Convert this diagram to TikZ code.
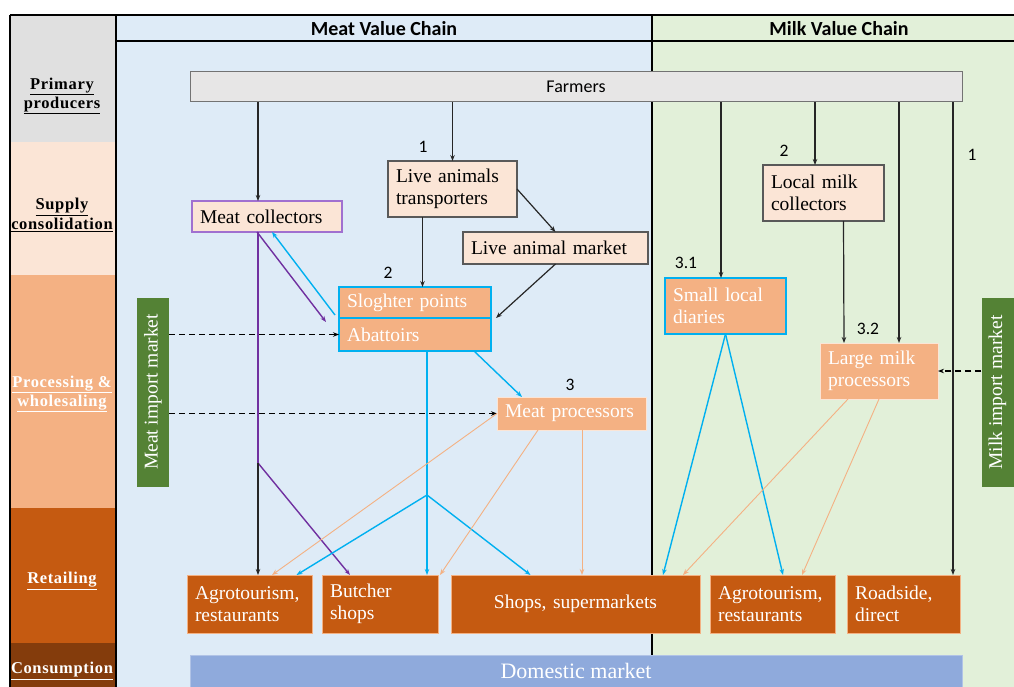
\documentclass[tikz,border=0pt]{standalone}
\usepackage{fontspec}
\setmainfont{Liberation Serif}
\newfontfamily\calibri{Carlito}
\newfontfamily\stagefont[LetterSpace=4.0]{Liberation Serif}
\usetikzlibrary{arrows.meta,calc,positioning}
\definecolor{meatbg}{HTML}{DEEBF7}
\definecolor{milkbg}{HTML}{E2F0D9}
\definecolor{bandgray}{HTML}{E0E0E0}
\definecolor{farmgray}{HTML}{E7E6E6}
\definecolor{peach}{HTML}{FBE5D6}
\definecolor{lightorange}{HTML}{F4B183}
\definecolor{darkorange}{HTML}{C55A11}
\definecolor{darkbrown}{HTML}{843C0C}
\definecolor{leafgreen}{HTML}{548235}
\definecolor{domblue}{HTML}{8FAADC}
\definecolor{chaincyan}{HTML}{00B0F0}
\definecolor{chainpurple}{HTML}{7030A0}
\definecolor{lilac}{HTML}{A070D0}

\begin{document}
\begin{tikzpicture}[x=1pt,y=-1pt,>={Stealth[length=6pt,width=4.5pt]}]
        \tikzstyle{stage}=[font=\stagefont\fontsize{16.5}{19.5}\selectfont\bfseries, align=center]
        \tikzstyle{head}=[font=\calibri\fontsize{20}{22}\selectfont\bfseries]
        \tikzstyle{num}=[font=\calibri\fontsize{17.5}{20}\selectfont]
        \tikzstyle{box}=[rectangle, inner xsep=8pt, inner ysep=0pt, outer sep=0pt, align=left, font=\fontsize{19.5}{22}\selectfont]
        \tikzstyle{pale}=[box, fill=peach, draw=black!65, line width=1.2pt]
        \tikzstyle{proc}=[box, fill=lightorange, text=white, draw=chaincyan, line width=1.2pt]
        \tikzstyle{plainproc}=[box, fill=lightorange, text=white, draw=peach, line width=0.6pt]
        \tikzstyle{retail}=[box, fill=darkorange, text=white, draw=lightorange, line width=0.6pt, minimum height=58pt]
        \tikzstyle{import}=[rectangle, inner sep=0pt, fill=leafgreen, text=white, rotate=90, minimum width=189pt, minimum height=32pt, font=\fontsize{19.5}{22}\selectfont]
        \tikzstyle{arr}=[->, line width=1.2pt, black!85]
        \tikzstyle{cyanarr}=[->, line width=1.4pt, chaincyan]
        \tikzstyle{purparr}=[->, line width=1.4pt, chainpurple]
        \tikzstyle{salarr}=[->, line width=0.9pt, lightorange]
        \tikzstyle{imparr}=[->, line width=1.2pt, dash pattern=on 6pt off 4pt]

        \useasboundingbox (0,0) rectangle (1014,687);

        % Backgrounds
        \fill[meatbg] (116,15) rectangle (652,687);
        \fill[milkbg] (652,15) rectangle (1014,687);
        \fill[bandgray] (10,15) rectangle (116,142);
        \fill[peach] (10,142) rectangle (116,275);
        \fill[lightorange] (10,275) rectangle (116,508);
        \fill[darkorange] (10,508) rectangle (116,643);
        \fill[darkbrown] (10,643) rectangle (116,687);

        % Frame
        \draw[line width=1.5pt] (10,15) -- (1014,15);
        \draw[line width=1.5pt] (10,15) -- (10,687);
        \draw[line width=2pt] (116,15) -- (116,687);
        \draw[line width=1.2pt] (116,41) -- (1014,41);
        \draw[line width=1.5pt] (652,15) -- (652,655);

        % Stages
        \node (sprimary)[stage] at (62,96) {\underline{Primary}\\\underline{producers}};
        \node (ssupply)[stage] at (62,215) {\underline{Supply}\\\underline{consolidation}};
        \node (sprocess)[stage, text=white] at (62,394) {\underline{Processing \&}\\\underline{wholesaling}};
        \node (sretail)[stage, text=white] at (62,581) {\underline{Retailing}};
        \node (sconsume)[stage, text=white] at (62,671) {\underline{Consumption}};

        % Headers
        \node (meathead)[head] at (384,29) {Meat Value Chain};
        \node (milkhead)[head] at (839,29) {Milk Value Chain};

        % Farmers and market
        \node (farmers)[rectangle, fill=farmgray, draw=black!55, line width=1pt, minimum width=772pt, minimum height=30pt, font=\calibri\fontsize{18}{20}\selectfont] at (576,87) {Farmers};
        \node (domestic)[rectangle, fill=domblue, draw=domblue!70!white, minimum width=772pt, minimum height=32pt, text=white, font=\fontsize{22}{24}\selectfont] at (576,671) {Domestic market};

        % Meat chain
        \node (meatcol)[pale, draw=lilac, text width=134pt, minimum height=31pt] at (267,216.5) {Meat collectors};
        \node (transp)[pale, text width=113pt, minimum height=56pt] at (452.5,189) {Live animals\\transporters};
        \node (animalmkt)[pale, text width=169pt, minimum height=32pt] at (555.5,248) {Live animal market};
        \node (slaughter)[proc, text width=136pt, minimum height=31pt] at (415,302.5) {Sloghter points};
        \node (abattoirs)[proc, text width=136pt, minimum height=33pt] at (415,334.5) {Abattoirs};
        \node (meatproc)[plainproc, text width=133pt, minimum height=33pt] at (571.5,413.5) {Meat processors};
        \node (meatimport)[import] at (153,392) {Meat import market};

        % Milk chain
        \node (milkcol)[pale, text width=105pt, minimum height=56pt] at (823.5,193) {Local milk\\collectors};
        \node (smalldairy)[proc, text width=105pt, minimum height=56pt] at (725.5,306) {Small local\\diaries};
        \node (largemilk)[plainproc, text width=102pt, minimum height=56pt] at (879,371) {Large milk\\processors};
        \node (milkimport)[import] at (997.5,392.5) {Milk import market};

        % Retail
        \node (agromeat)[retail, text width=109pt] at (249.5,604) {Agrotourism,\\restaurants};
        \node (butcher)[retail, text width=100pt] at (380,604) {Butcher\\shops};
        \node (shops)[retail, text width=233pt, align=center] at (575.5,604) {Shops, supermarkets};
        \node (agromilk)[retail, text width=109pt] at (772.5,604) {Agrotourism,\\restaurants};
        \node (roadside)[retail, text width=97pt] at (903.5,604) {Roadside,\\direct};

        % Numbers
        \node (nmeat1)[num] at (423,147) {1};
        \node (nmeat2)[num] at (388,273) {2};
        \node (nmeat3)[num] at (570,385) {3};
        \node (nmilk1)[num] at (972,155) {1};
        \node (nmilk2)[num] at (784,151) {2};
        \node (nmilk31)[num] at (686,263) {3.1};
        \node (nmilk32)[num] at (868,329) {3.2};

        % Split points
        \coordinate (msplit) at (258,463);
        \coordinate (csplit) at (427,495);

        % Meat arrows
        \draw[arr] ([xshift=-9pt]meatcol.north |- farmers.south) -- ([xshift=-9pt]meatcol.north);
        \draw[arr] (transp.north |- farmers.south) -- (transp.north);
        \draw[arr] (transp.east) -- (animalmkt.north);
        \draw[arr] ([xshift=-30pt]transp.south) -- ([xshift=-30pt]transp.south |- slaughter.north);
        \draw[arr] (animalmkt.south) -- ([xshift=5pt]abattoirs.north east);
        \draw[cyanarr] ([xshift=-17pt]abattoirs.south east) -- ([xshift=25pt]meatproc.north west);
        \draw[cyanarr] ([xshift=-4pt,yshift=3pt]slaughter.south west) -- ([xshift=5pt]meatcol.south);
        \draw[purparr] ([xshift=-10pt]meatcol.south) -- ([xshift=-13pt,yshift=-4pt]abattoirs.north west);
        \draw[chainpurple, line width=1.4pt] (meatcol.south -| msplit) -- (msplit);
        \draw[purparr] (msplit) -- ([xshift=-30pt]butcher.north);
        \draw[arr] (msplit) -- (agromeat.north -| msplit);
        \draw[imparr] (meatimport.south |- abattoirs.west) -- (abattoirs.west);
        \draw[imparr] (meatimport.south |- meatproc.west) -- (meatproc.west);
        \draw[cyanarr] (abattoirs.south -| csplit) -- (butcher.north -| csplit);
        \draw[cyanarr] (csplit) -- ([xshift=47pt]agromeat.north);
        \draw[cyanarr] (csplit) -- ([xshift=-45pt]shops.north);
        \draw[salarr] (meatproc.west) -- ([xshift=22.5pt]agromeat.north);
        \draw[salarr] ([xshift=-33.5pt]meatproc.south) -- ([xshift=2pt]butcher.north east);
        \draw[salarr] ([xshift=10.5pt]meatproc.south) -- ([xshift=10.5pt]meatproc.south |- shops.north);

        % Milk arrows
        \draw[arr] ([xshift=-4.5pt]smalldairy.north |- farmers.south) -- ([xshift=-4.5pt]smalldairy.north);
        \draw[arr] ([xshift=-8.5pt]milkcol.north |- farmers.south) -- ([xshift=-8.5pt]milkcol.north);
        \draw[arr] ([xshift=20pt]largemilk.north |- farmers.south) -- ([xshift=20pt]largemilk.north);
        \draw[arr] ([xshift=49.5pt]roadside.north |- farmers.south) -- ([xshift=49.5pt]roadside.north);
        \draw[arr] ([xshift=20pt]milkcol.south) -- ([xshift=-35pt]largemilk.north);
        \draw[imparr] (milkimport.north |- largemilk.east) -- (largemilk.east);
        \draw[cyanarr] (smalldairy.south) -- ([xshift=-37pt]shops.north east);
        \draw[cyanarr] (smalldairy.south) -- ([xshift=10.5pt]agromilk.north);
        \draw[salarr] ([xshift=-31pt]largemilk.south) -- ([xshift=-17pt]shops.north east);
        \draw[salarr] (largemilk.south) -- ([xshift=29.5pt]agromilk.north);
\end{tikzpicture}
\end{document}
